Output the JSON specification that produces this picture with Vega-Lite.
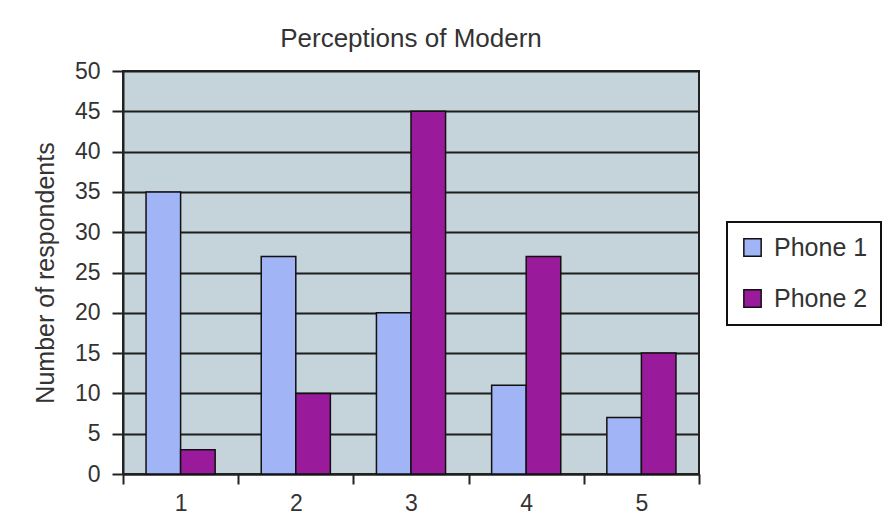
{
  "$schema": "https://vega.github.io/schema/vega-lite/v6.json",
  "width": 576,
  "height": 403,
  "autosize": {"type": "none"},
  "padding": {"left": 123, "top": 71, "right": 197, "bottom": 57},
  "background": "white",
  "title": {
    "text": "Perceptions of Modern",
    "fontSize": 26,
    "font": "Liberation Sans",
    "fontWeight": "normal",
    "color": "#333333",
    "anchor": "middle",
    "offset": 8
  },
  "data": {
    "values": [
      {"rating": "1", "series": "Phone 1", "count": 35},
      {"rating": "1", "series": "Phone 2", "count": 3},
      {"rating": "2", "series": "Phone 1", "count": 27},
      {"rating": "2", "series": "Phone 2", "count": 10},
      {"rating": "3", "series": "Phone 1", "count": 20},
      {"rating": "3", "series": "Phone 2", "count": 45},
      {"rating": "4", "series": "Phone 1", "count": 11},
      {"rating": "4", "series": "Phone 2", "count": 27},
      {"rating": "5", "series": "Phone 1", "count": 7},
      {"rating": "5", "series": "Phone 2", "count": 15}
    ]
  },
  "mark": {"type": "bar", "stroke": "#111111", "strokeWidth": 1.5},
  "encoding": {
    "x": {
      "field": "rating",
      "type": "nominal",
      "scale": {"paddingInner": 0, "paddingOuter": 0},
      "axis": {
        "title": null,
        "labelAngle": 0,
        "tickBand": "extent",
        "tickSize": 10,
        "tickWidth": 2,
        "tickColor": "#222222",
        "domainColor": "#222222",
        "domainWidth": 2,
        "labelPadding": 8,
        "labelFontSize": 23,
        "labelFont": "Liberation Sans",
        "labelColor": "#333333",
        "grid": false
      }
    },
    "xOffset": {"field": "series", "type": "nominal", "scale": {"paddingInner": 0, "paddingOuter": 0.6667}},
    "y": {
      "field": "count",
      "type": "quantitative",
      "scale": {"domain": [0, 50], "nice": false},
      "axis": {
        "title": "Number of respondents",
        "titleFontSize": 25,
        "titleFont": "Liberation Sans",
        "titleFontWeight": "normal",
        "titleColor": "#333333",
        "titlePadding": 16,
        "values": [0, 5, 10, 15, 20, 25, 30, 35, 40, 45, 50],
        "tickSize": 11,
        "tickWidth": 2,
        "tickColor": "#222222",
        "domainColor": "#222222",
        "domainWidth": 2,
        "labelPadding": 12,
        "labelFontSize": 23,
        "labelFont": "Liberation Sans",
        "labelColor": "#333333",
        "grid": true,
        "gridColor": "#1e1e1e",
        "gridWidth": 2
      }
    },
    "color": {
      "field": "series",
      "type": "nominal",
      "scale": {"domain": ["Phone 1", "Phone 2"], "range": ["#a0b4f6", "#9a1a9c"]},
      "legend": {
        "title": null,
        "orient": "none",
        "legendX": 604,
        "legendY": 151,
        "symbolType": "square",
        "symbolSize": 300,
        "symbolStrokeColor": "#111111",
        "symbolStrokeWidth": 1.5,
        "labelFontSize": 25,
        "labelFont": "Liberation Sans",
        "labelColor": "#333333",
        "labelOffset": 9,
        "rowPadding": 25,
        "padding": 13,
        "strokeColor": "#111111",
        "fillColor": "white",
        "labelExpr": "datum.label + '\u00a0\u00a0\u00a0\u00a0\u00a0\u00a0\u00a0'"
      }
    }
  },
  "config": {
    "view": {"fill": "#c5d3da", "stroke": "#222222", "strokeWidth": 2},
    "legend": {"strokeWidth": 2}
  }
}
